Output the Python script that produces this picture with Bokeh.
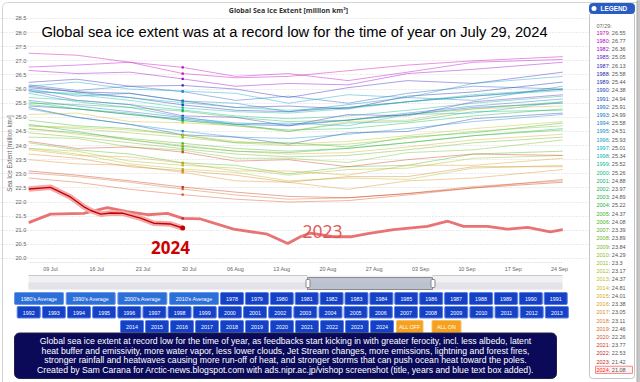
from bokeh.plotting import figure
from bokeh.models import Label, BoxAnnotation, FixedTicker, PrintfTickFormatter, Range1d
from bokeh.embed import file_html
from bokeh.resources import INLINE
import math

# ---------------- data ----------------
years = [1979, 1980, 1982, 1985, 1987, 1988, 1989, 1990, 1991, 1992, 1993, 1994, 1995,
         1996, 1997, 1998, 1999, 2000, 2001, 2002, 2003, 2004, 2005, 2006, 2007, 2008,
         2009, 2010, 2011, 2012, 2013, 2014, 2015, 2016, 2017, 2018, 2019, 2020, 2021,
         2022, 2023, 2024]
extent_0729 = [26.55, 26.77, 26.36, 25.05, 26.13, 25.58, 25.44, 24.38, 24.94, 25.91, 24.99,
               25.58, 24.51, 25.93, 25.01, 25.34, 25.52, 25.26, 24.88, 23.97, 24.89, 25.22,
               24.37, 24.08, 23.39, 23.89, 23.84, 24.29, 23.3, 23.17, 24.37, 24.81, 24.01,
               23.38, 23.05, 23.11, 22.46, 22.26, 23.77, 22.53, 21.42, 21.08]
year_colors = ["#cc00aa", "#bb00cc", "#9900cc", "#5522cc", "#3322bb", "#2222aa", "#1a2eb0",
               "#1840b8", "#1650c0", "#1460c4", "#1270c8", "#1080c8", "#0e90c8", "#0ca0c4",
               "#0aaebc", "#0ab4aa", "#0ab898", "#0ab884", "#0cb46c", "#10b45a", "#18b448",
               "#22b438", "#30b42a", "#40b422", "#50b41e", "#62b81e", "#74bc1e", "#86c01e",
               "#98c01e", "#aac01e", "#bcc01e", "#c8b81e", "#d0ac1e", "#d89e1e", "#d88e1e",
               "#d87c1e", "#d8661e", "#d8501e", "#d03c1e", "#c82a1e", "#c01e1e", "#ff2020"]

# day numbers counted from 30 June (09 Jul = 9, 06 Aug = 37, 03 Sep = 65)
days = [5.7, 13, 21, 29, 37, 45, 54, 63, 73, 86.5]
extent = {
    1979: [27.27, 27.2, 26.95, 26.55, 26.4, 26.45, 26.65, 26.85, 27.0, 27.15],
    1980: [26.78, 26.85, 26.95, 26.77, 26.45, 26.55, 26.3, 26.6, 26.95, 27.05],
    1982: [26.66, 26.55, 26.6, 26.36, 26.1, 26.2, 26.15, 26.55, 26.7, 26.95],
    1985: [25.95, 25.6, 25.45, 25.05, 25.0, 24.7, 25.1, 25.05, 25.55, 25.8],
    1987: [26.24, 26.35, 26.1, 26.13, 26.0, 25.7, 26.05, 26.3, 26.2, 26.6],
    1988: [26.1, 25.9, 25.85, 25.58, 25.35, 25.4, 25.3, 25.75, 25.9, 26.25],
    1989: [26.05, 25.9, 25.7, 25.44, 25.25, 25.2, 25.35, 25.55, 25.75, 26.0],
    1990: [25.35, 25.0, 24.75, 24.38, 24.3, 24.05, 24.45, 24.5, 24.95, 25.15],
    1991: [25.4, 25.3, 25.1, 24.94, 24.75, 24.7, 24.9, 25.1, 25.35, 25.5],
    1992: [26.15, 25.95, 26.1, 25.91, 25.6, 25.75, 25.5, 25.85, 26.1, 26.0],
    1993: [25.6, 25.4, 25.2, 24.99, 24.8, 24.75, 24.9, 25.15, 25.4, 25.65],
    1994: [26.0, 25.75, 25.85, 25.58, 25.5, 25.2, 25.45, 25.7, 25.6, 26.1],
    1995: [25.3, 25.0, 24.75, 24.51, 24.3, 24.25, 24.4, 24.6, 24.85, 25.1],
    1996: [26.1, 26.25, 26.0, 25.93, 25.85, 25.5, 25.8, 25.7, 26.2, 26.45],
    1997: [25.85, 25.55, 25.35, 25.01, 24.75, 24.8, 24.7, 25.1, 25.15, 25.55],
    1998: [25.95, 25.8, 25.6, 25.34, 25.2, 25.15, 25.3, 25.55, 25.8, 26.0],
    1999: [25.9, 25.85, 25.7, 25.52, 25.35, 25.25, 25.35, 25.55, 25.75, 25.95],
    2000: [25.7, 25.6, 25.45, 25.26, 25.05, 24.95, 25.05, 25.25, 25.5, 25.75],
    2001: [25.55, 25.3, 25.15, 24.88, 24.75, 24.5, 24.8, 24.85, 25.2, 25.25],
    2002: [24.75, 24.5, 24.2, 23.97, 23.8, 23.75, 23.9, 24.1, 24.35, 24.6],
    2003: [25.45, 25.3, 25.1, 24.89, 24.7, 24.55, 24.6, 24.8, 25.05, 25.3],
    2004: [25.5, 25.45, 25.35, 25.22, 25.0, 24.85, 24.9, 25.1, 25.3, 25.55],
    2005: [24.9, 24.7, 24.6, 24.37, 24.1, 24.1, 23.95, 24.3, 24.45, 24.8],
    2006: [24.6, 24.45, 24.25, 24.08, 23.9, 23.8, 23.9, 24.1, 24.35, 24.55],
    2007: [24.1, 23.85, 23.7, 23.39, 23.3, 23.0, 23.25, 23.3, 23.7, 23.8],
    2008: [24.45, 24.3, 24.1, 23.89, 23.7, 23.6, 23.65, 23.85, 24.1, 24.3],
    2009: [24.3, 24.25, 23.95, 23.84, 23.55, 23.55, 23.4, 23.75, 23.85, 24.2],
    2010: [24.7, 24.6, 24.45, 24.29, 24.1, 24.0, 24.05, 24.25, 24.5, 24.7],
    2011: [23.9, 23.8, 23.45, 23.3, 23.2, 22.95, 23.15, 23.2, 23.55, 23.65],
    2012: [23.9, 23.7, 23.35, 23.17, 23.05, 22.75, 22.85, 22.8, 23.2, 23.3],
    2013: [24.7, 24.65, 24.55, 24.37, 24.15, 24.05, 24.15, 24.35, 24.6, 24.85],
    2014: [25.1, 25.15, 24.85, 24.81, 24.7, 24.5, 24.85, 24.9, 25.3, 25.4],
    2015: [24.6, 24.4, 24.2, 24.01, 23.8, 23.7, 23.75, 23.95, 24.2, 24.4],
    2016: [23.85, 23.65, 23.6, 23.38, 23.1, 23.1, 22.95, 23.3, 23.3, 23.55],
    2017: [23.5, 23.35, 23.3, 23.05, 22.75, 22.7, 22.45, 22.75, 22.85, 23.15],
    2018: [23.7, 23.55, 23.25, 23.11, 22.95, 22.7, 22.9, 22.9, 23.25, 23.25],
    2019: [23.03, 22.9, 22.7, 22.46, 22.25, 22.1, 22.15, 22.3, 22.55, 22.75],
    2020: [22.85, 22.7, 22.45, 22.26, 22.1, 22.0, 22.05, 22.25, 22.5, 22.8],
    2021: [24.15, 23.9, 23.95, 23.77, 23.45, 23.5, 23.25, 23.5, 23.7, 23.65],
    2022: [23.1, 22.95, 22.75, 22.53, 22.35, 22.2, 22.15, 22.3, 22.5, 22.7],
}
days_2023 = [5.7, 9, 14, 17.6, 20.6, 23.7, 26.7, 29, 31.7, 36.7, 41.8, 44.9, 46.8, 48.3,
             51.8, 54.4, 57, 60.9, 66, 69.1, 71.5, 75.1, 78.1, 81.2, 84.6, 86.5]
ext_2023 = [21.27, 21.57, 21.6, 21.8, 21.66, 21.55, 21.6, 21.42, 21.4, 21.04, 20.86, 20.53,
            20.77, 20.9, 20.77, 20.77, 20.88, 21.02, 21.14, 21.32, 21.14, 21.14, 21.04, 21.1,
            20.94, 21.02]
days_2024 = [5.7, 9, 12, 14, 15.1, 16.6, 18.1, 20, 22.6, 24.6, 27.2, 29]
ext_2024 = [22.46, 22.52, 22.18, 21.84, 21.7, 21.57, 21.61, 21.6, 21.43, 21.25, 21.22, 21.08]
legend_day = 29
legend_date = "07/29:"

x_tick_days = [9, 16, 23, 30, 37, 44, 51, 58, 65, 72, 79, 86]
x_tick_labels = ["09 Jul", "16 Jul", "23 Jul", "30 Jul", "06 Aug", "13 Aug", "20 Aug",
                 "27 Aug", "03 Sep", "10 Sep", "17 Sep", "24 Sep"]
y_ticks = [20.0, 20.5, 21.0, 21.5, 22.0, 22.5, 23.0, 23.5, 24.0, 24.5, 25.0, 25.5, 26.0,
           26.5, 27.0, 27.5, 28.0, 28.5]

avg_buttons = ["1980's Average", "1990's Average", "2000's Average", "2010's Average"]
button_years = list(range(1978, 2025))

title_text = "Global sea ice extent was at a record low for the time of year on July 29, 2024"
chart_title = "Global Sea Ice Extent [million km\u00b2]"
y_title = "Sea Ice Extent [million km\u00b2]"
box_lines = [
    "Global sea ice extent at record low for the time of year, as feedbacks start kicking in with greater ferocity, incl. less albedo, latent",
    "heat buffer and emissivity, more water vapor, less lower clouds, Jet Stream changes, more emissions, lightning and forest fires,",
    "stronger rainfall and heatwaves causing more run-off of heat, and stronger storms that can push ocean heat toward the poles.",
    "Created by Sam Carana for Arctic-news.blogspot.com with ads.nipr.ac.jp/vishop screenshot (title, years and blue text box added).",
]

# ---------------- layout ----------------
W, H = 640, 382
FONT = "Liberation Sans"
X_LO, X_HI = 5.67, 86.46      # plot-area extent in days
Y_BOTTOM = 19.858             # plot-area bottom in million km2

p = figure(width=W, height=H, output_backend="svg", toolbar_location=None,
           x_range=Range1d(1.436, 98.26), y_range=Range1d(15.608, 29.1375),
           min_border=0, min_border_left=0, min_border_right=0, min_border_top=0,
           min_border_bottom=0, outline_line_color=None,
           background_fill_color="white", border_fill_color="white")

p.xgrid.visible = False
p.ygrid.ticker = FixedTicker(ticks=y_ticks)
p.ygrid.bounds = (X_LO, X_HI)
p.ygrid.grid_line_color = "#d6d6d6"
p.ygrid.grid_line_dash = "1 2"

p.yaxis.fixed_location = X_LO
p.yaxis.ticker = FixedTicker(ticks=y_ticks)
p.yaxis.formatter = PrintfTickFormatter(format="%.1f")
p.yaxis.axis_line_color = None
p.yaxis.major_tick_line_color = None
p.yaxis.minor_tick_line_color = None
p.yaxis.major_tick_out = 0
p.yaxis.major_tick_in = 0
p.yaxis.minor_tick_out = 0
p.yaxis.major_label_standoff = 2
p.yaxis.major_label_text_font = FONT
p.yaxis.major_label_text_font_size = "5.7px"
p.yaxis.major_label_text_color = "#666666"

p.xaxis.fixed_location = Y_BOTTOM
p.xaxis.bounds = (X_LO, X_HI)
p.xaxis.ticker = FixedTicker(ticks=x_tick_days)
p.xaxis.major_label_overrides = {d: s for d, s in zip(x_tick_days, x_tick_labels)}
p.xaxis.axis_line_color = "#ececec"
p.xaxis.major_tick_line_color = None
p.xaxis.minor_tick_line_color = None
p.xaxis.major_tick_out = 0
p.xaxis.major_tick_in = 0
p.xaxis.minor_tick_out = 0
p.xaxis.major_label_standoff = 3
p.xaxis.major_label_text_font = FONT
p.xaxis.major_label_text_font_size = "5.4px"
p.xaxis.major_label_text_color = "#666666"

# faint year lines
for yr, col in zip(years, year_colors):
    if yr in extent:
        p.line(days, extent[yr], line_color=col, line_width=1, line_alpha=0.42)

# 2023 / 2024
p.line(days_2023, ext_2023, line_color="#e86a6a", line_width=2.8, line_alpha=0.95)
p.line(days_2024, ext_2024, line_color="#f3a9a9", line_width=5.5)
p.line(days_2024, ext_2024, line_color="#c80000", line_width=1.4)

# hover markers at 07/29
p.scatter([legend_day] * len(years), extent_0729, marker="square", size=2.2,
          fill_color=year_colors, line_color=None)
p.scatter([legend_day], [extent_0729[-1]], size=5, fill_color="#c80000", line_color=None)


def sx(fx):
    return fx


def sy(fy):
    return H - fy


def label(fx, fy, text, size, color="#333333", align="left", baseline="middle",
          style="normal", font=FONT, angle=0.0):
    p.add_layout(Label(x=sx(fx), y=sy(fy), x_units="screen", y_units="screen", text=text,
                       text_font=font, text_font_size=size, text_color=color,
                       text_align=align, text_baseline=baseline, text_font_style=style,
                       angle=angle))


def box(fx1, fy1, fx2, fy2, fill, line=None, radius=0, alpha=1.0, lw=1):
    p.add_layout(BoxAnnotation(left=sx(fx1), right=sx(fx2), top=sy(fy1), bottom=sy(fy2),
                               left_units="screen", right_units="screen",
                               top_units="screen", bottom_units="screen",
                               fill_color=fill, fill_alpha=alpha,
                               line_color=line, line_alpha=1.0 if line else 0.0,
                               line_width=lw, border_radius=radius))


# chart container outline and page scrollbar strip
box(2, 2, 700, 420, None, line="#d4d4d4", radius=5, alpha=0.0)
box(636.5, 0, 642, 382, "#c6c6c6", line="#aaaaaa")

# titles
label(288, 10, chart_title, "7px", color="#333333", align="center", style="bold", font="Open Sans")
label(294, 31, title_text, "14.7px", color="#000000", align="center", baseline="alphabetic")
label(9, 153, y_title, "6.3px", color="#666666", align="center", angle=math.pi / 2)

# year labels on the chart
label(170, 247, "2024", "17px", color="#cc0000", align="center", baseline="alphabetic",
      style="bold", font="Open Sans")
label(302, 231, "2023", "17.5px", color="#e05555", align="left", baseline="alphabetic",
      font="Open Sans")

# navigator
box(28, 275, 562, 289, "#f1f1f3", line=None)
box(28, 282, 562, 289, "#e2e4e9", line=None)
box(28, 274.5, 307, 275.5, "#c8c8c8")
box(432, 274.5, 562, 275.5, "#c8c8c8")
box(307, 277, 432, 289, "#aeb6c6", line="#8c8c8c", alpha=0.75)
box(305.5, 279, 309.5, 287, "#ffffff", line="#888888", radius=1)
box(430.5, 279, 434.5, 287, "#ffffff", line="#888888", radius=1)


def button(fx1, fy1, fx2, fy2, text, fill, line, tcolor="#ffffff"):
    box(fx1, fy1, fx2, fy2, fill, line=line, radius=1)
    label((fx1 + fx2) / 2, (fy1 + fy2) / 2 + 0.3, text, "5.3px", color=tcolor, align="center")


r1, r2, r3 = (292, 304), (306, 317.5), (320, 332)
for i, t in enumerate(avg_buttons):
    x0 = 14 + i * 51.7
    button(x0, r1[0], x0 + 49, r1[1], t, "#2d6fd8", "#6a9ae6")
for i, yr in enumerate(button_years):
    if yr <= 1991:
        x0, rr = 220 + (yr - 1978) * 24.9, r1
    elif yr <= 2013:
        x0, rr = 16.7 + (yr - 1992) * 25.15, r2
    else:
        x0, rr = 120 + (yr - 2014) * 25.0, r3
    button(x0, rr[0], x0 + 23, rr[1], str(yr), "#1541c6", "#5b80df")
button(396, r3[0], 422.5, r3[1], "ALL OFF", "#f5a11f", "#f7c060")
button(431.5, r3[0], 460.5, r3[1], "ALL ON", "#f5a11f", "#f7c060")

# blue text box
box(14, 332.5, 556, 378, "#0a0a58", line="#222244", radius=5)
for k, t in enumerate(box_lines):
    label(285, 340.7 + k * 9.55, t, "8.7px", color="#ffffff", align="center")

# legend panel
box(589, 12, 634, 378, "#ffffff", line="#c4c4c4", radius=3)
box(589, 3, 634, 13, "#2a5cc4", line="#2a5cc4", radius=3)
box(591, 5.5, 596, 10.5, "#ffffff", radius=3)
label(600, 8.3, "LEGEND", "6.4px", color="#ffffff", style="bold")
label(596, 25, legend_date, "5.5px", color="#666666")
for k, (yr, v, col) in enumerate(zip(years, extent_0729, year_colors)):
    fy = 32.3 + k * 8.22
    if yr == 2024:
        box(595, fy - 3.6, 632, fy + 3.6, "#fff2f2", line="#f08a8a")
    label(596, fy, str(yr), "5.5px", color=col)
    label(608.3, fy, ": " + str(v), "5.5px", color="#555555")

open("out.html", "w").write(file_html(p, INLINE))
